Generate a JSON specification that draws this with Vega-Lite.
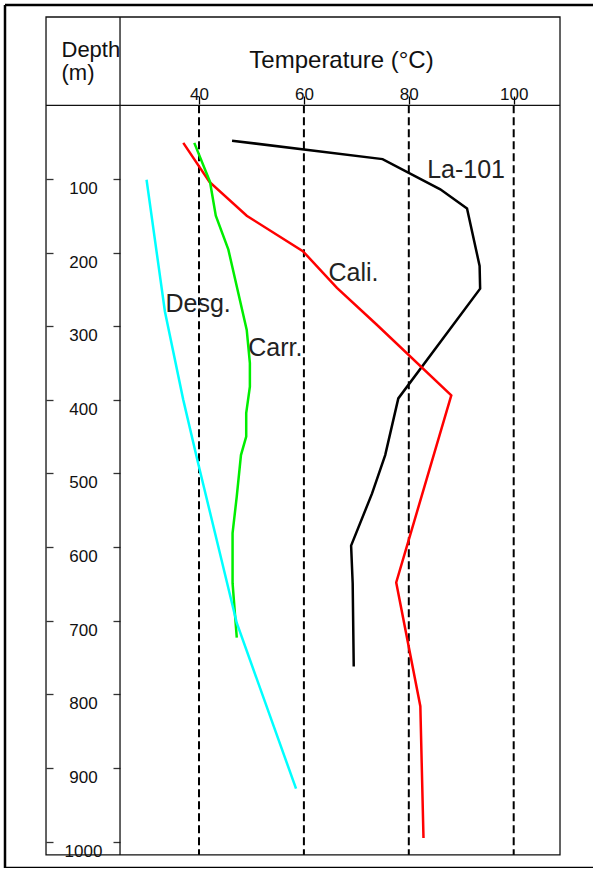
{
  "$schema": "https://vega.github.io/schema/vega-lite/v6.json",
  "padding": {"left": 5, "top": 5, "right": 0, "bottom": 0},
  "background": "white",
  "width": 588,
  "height": 863,
  "config": {
    "font": "Liberation Sans",
    "view": {"stroke": "black", "strokeWidth": 2.5, "strokeDash": [588, 863, 1451, 0]},
    "axis": {"labelFont": "Liberation Sans", "titleFont": "Liberation Sans"}
  },
  "datasets": {
    "profiles": [
      {"series": "La-101", "T": 46.3, "depth": 48},
      {"series": "La-101", "T": 75.0, "depth": 73},
      {"series": "La-101", "T": 86.0, "depth": 114},
      {"series": "La-101", "T": 91.1, "depth": 140},
      {"series": "La-101", "T": 93.5, "depth": 218},
      {"series": "La-101", "T": 93.6, "depth": 249},
      {"series": "La-101", "T": 78.0, "depth": 398},
      {"series": "La-101", "T": 75.5, "depth": 475},
      {"series": "La-101", "T": 73.0, "depth": 527},
      {"series": "La-101", "T": 69.0, "depth": 598},
      {"series": "La-101", "T": 69.3, "depth": 649},
      {"series": "La-101", "T": 69.5, "depth": 762},
      {"series": "Cali.", "T": 37.0, "depth": 51},
      {"series": "Cali.", "T": 42.0, "depth": 104},
      {"series": "Cali.", "T": 49.1, "depth": 150},
      {"series": "Cali.", "T": 59.8, "depth": 198},
      {"series": "Cali.", "T": 66.3, "depth": 248},
      {"series": "Cali.", "T": 73.9, "depth": 298},
      {"series": "Cali.", "T": 88.1, "depth": 394},
      {"series": "Cali.", "T": 77.6, "depth": 648},
      {"series": "Cali.", "T": 82.2, "depth": 816},
      {"series": "Cali.", "T": 82.8, "depth": 995},
      {"series": "Carr.", "T": 39.1, "depth": 51},
      {"series": "Carr.", "T": 42.1, "depth": 104},
      {"series": "Carr.", "T": 43.2, "depth": 150},
      {"series": "Carr.", "T": 45.6, "depth": 196},
      {"series": "Carr.", "T": 49.1, "depth": 305},
      {"series": "Carr.", "T": 49.7, "depth": 350},
      {"series": "Carr.", "T": 49.7, "depth": 382},
      {"series": "Carr.", "T": 49.0, "depth": 418},
      {"series": "Carr.", "T": 49.0, "depth": 450},
      {"series": "Carr.", "T": 48.0, "depth": 475},
      {"series": "Carr.", "T": 47.2, "depth": 531},
      {"series": "Carr.", "T": 46.4, "depth": 581},
      {"series": "Carr.", "T": 46.4, "depth": 649},
      {"series": "Carr.", "T": 47.2, "depth": 723},
      {"series": "Desg.", "T": 30.0, "depth": 101},
      {"series": "Desg.", "T": 33.5, "depth": 280},
      {"series": "Desg.", "T": 37.0, "depth": 400},
      {"series": "Desg.", "T": 39.9, "depth": 488},
      {"series": "Desg.", "T": 47.2, "depth": 703},
      {"series": "Desg.", "T": 58.5, "depth": 928}
    ],
    "labels": [
      {"label": "La-101", "T": 83.5, "depth": 98},
      {"label": "Cali.", "T": 64.7, "depth": 238},
      {"label": "Desg.", "T": 33.6, "depth": 280},
      {"label": "Carr.", "T": 49.4, "depth": 341}
    ],
    "grid": [{"T": 40}, {"T": 60}, {"T": 80}, {"T": 100}]
  },
  "resolve": {"axis": {"y": "independent"}},
  "layer": [
    {
      "data": {"name": "grid"},
      "mark": {"type": "rule", "color": "black", "strokeWidth": 2, "strokeDash": [8, 4]},
      "encoding": {
        "x": {
          "field": "T",
          "type": "quantitative",
          "scale": {"domain": [3.01, 115.12], "nice": false, "zero": false},
          "axis": {
            "orient": "top",
            "offset": -99,
            "values": [40, 60, 80, 100],
            "domain": false,
            "grid": false,
            "tickSize": 8,
            "tickWidth": 1.3,
            "tickColor": "black",
            "labelPadding": -3,
            "labelBaseline": "alphabetic",
            "labelFontSize": 17,
            "labelColor": "#111111",
            "labelFlush": false,
            "title": "Temperature (°C)",
            "titleFontSize": 24,
            "titleFontWeight": "normal",
            "titleColor": "#111111",
            "titleBaseline": "alphabetic",
            "titleAlign": "center",
            "titleX": 336,
            "titleY": -37
          }
        },
        "y": {"datum": 0, "type": "quantitative", "scale": {"domain": [-136.3, 1035.8], "reverse": true, "nice": false, "zero": false}, "axis": null},
        "y2": {"datum": 1018}
      }
    },
    {
      "data": {"values": [{}]},
      "mark": {"type": "rect", "fillOpacity": 0, "stroke": "#111111", "strokeWidth": 1.3},
      "encoding": {
        "x": {"datum": 10.83, "type": "quantitative", "scale": {"domain": [3.01, 115.12], "nice": false, "zero": false}},
        "x2": {"datum": 108.83},
        "y": {"datum": -120, "type": "quantitative", "scale": {"domain": [-136.3, 1035.8], "reverse": true, "nice": false, "zero": false}, "axis": null},
        "y2": {"datum": 1018}
      }
    },
    {
      "data": {"values": [{}]},
      "mark": {"type": "rule", "color": "#111111", "strokeWidth": 1.3},
      "encoding": {
        "x": {"datum": 24.94, "type": "quantitative", "scale": {"domain": [3.01, 115.12], "nice": false, "zero": false}},
        "y": {"datum": -120, "type": "quantitative", "scale": {"domain": [-136.3, 1035.8], "reverse": true, "nice": false, "zero": false}, "axis": null},
        "y2": {"datum": 1018}
      }
    },
    {
      "data": {"values": [{}]},
      "mark": {"type": "rule", "color": "#111111", "strokeWidth": 1.3},
      "encoding": {
        "x": {"datum": 10.83, "type": "quantitative", "scale": {"domain": [3.01, 115.12], "nice": false, "zero": false}},
        "x2": {"datum": 108.83},
        "y": {
          "datum": 0,
          "type": "quantitative",
          "scale": {"domain": [-136.3, 1035.8], "reverse": true, "nice": false, "zero": false},
          "axis": {
            "orient": "left",
            "offset": -41,
            "values": [100, 200, 300, 400, 500, 600, 700, 800, 900, 1000],
            "format": "d",
            "domain": false,
            "grid": false,
            "tickSize": -7,
            "tickColor": "#333333",
            "tickWidth": 1.3,
            "labelAlign": "center",
            "labelBaseline": "alphabetic",
            "labelPadding": -30,
            "labelOffset": 14.5,
            "labelFontSize": 17,
            "labelColor": "#111111",
            "labelBound": false,
            "labelFlush": false,
            "labelOverlap": false,
            "title": ["Depth", "(m)"],
            "titleAngle": 0,
            "titleX": 15,
            "titleY": 51,
            "titleAlign": "left",
            "titleBaseline": "alphabetic",
            "titleFontSize": 22,
            "titleFontWeight": "normal",
            "titleLineHeight": 23,
            "titleColor": "#111111"
          }
        }
      }
    },
    {
      "data": {"name": "profiles"},
      "mark": {"type": "line", "strokeWidth": 2.5},
      "encoding": {
        "x": {"field": "T", "type": "quantitative", "scale": {"domain": [3.01, 115.12], "nice": false, "zero": false}},
        "y": {
          "field": "depth",
          "type": "quantitative",
          "scale": {"domain": [-136.3, 1035.8], "reverse": true, "nice": false, "zero": false},
          "axis": {
            "orient": "left",
            "offset": -115,
            "values": [100, 200, 300, 400, 500, 600, 700, 800, 900, 1000],
            "domain": false,
            "grid": false,
            "tickSize": 7,
            "tickColor": "#333333",
            "tickWidth": 1.3,
            "labels": false,
            "title": null
          }
        },
        "color": {
          "field": "series",
          "type": "nominal",
          "scale": {"domain": ["La-101", "Cali.", "Carr.", "Desg."], "range": ["#000000", "#ff0000", "#00ee00", "#00ffff"]},
          "legend": null
        },
        "order": {"field": "depth", "type": "quantitative"}
      }
    },
    {
      "data": {"name": "labels"},
      "mark": {"type": "text", "align": "left", "baseline": "alphabetic", "fontSize": 25, "color": "#222222", "font": "Liberation Sans"},
      "encoding": {
        "x": {"field": "T", "type": "quantitative", "scale": {"domain": [3.01, 115.12], "nice": false, "zero": false}},
        "y": {"field": "depth", "type": "quantitative", "scale": {"domain": [-136.3, 1035.8], "reverse": true, "nice": false, "zero": false}, "axis": null},
        "text": {"field": "label"}
      }
    }
  ]
}
